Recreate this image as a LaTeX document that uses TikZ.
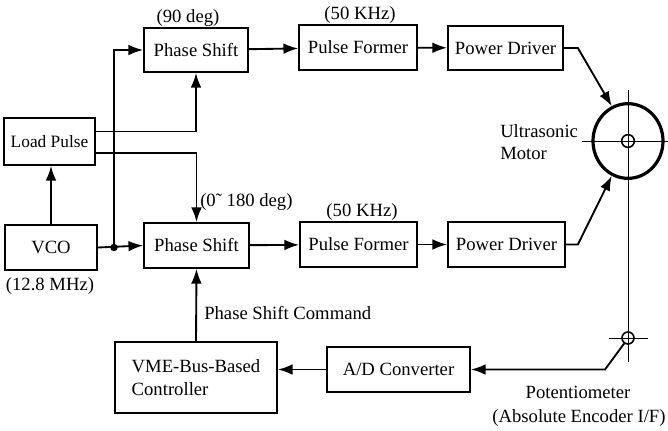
\documentclass[tikz,border=0pt]{standalone}
\usepackage{fontspec}
\setmainfont{Liberation Serif}
\usepackage{tikz}
\usetikzlibrary{arrows.meta,calc,shapes.geometric}

\begin{document}
\begin{tikzpicture}[x=0.75pt,y=-0.75pt,>={Latex[length=11pt,width=8pt]},
  font=\fontsize{14}{17}\selectfont,
  blk/.style={draw,line width=1.3pt,inner sep=2pt,minimum height=33.75pt},
  wire/.style={line width=1.4pt},
  hair/.style={line width=0.7pt}]
  \useasboundingbox (0,0) rectangle (668,430);
  % blocks
  \node[blk,minimum width=68.25pt,minimum height=35.25pt,font=\fontsize{13}{15}\selectfont] (load) at (49.5,141.5) {Load Pulse};
  \node[blk,minimum width=69pt] (vco) at (51,247.5) {VCO};
  \node[blk,minimum width=78pt,minimum height=33pt] (ps1) at (196,50) {Phase Shift};
  \node[blk,minimum width=88.5pt] (pf1) at (358,47.5) {Pulse Former};
  \node[blk,minimum width=86.25pt,minimum height=33pt] (pd1) at (505.5,48) {Power Driver};
  \node[blk,minimum width=78.75pt] (ps2) at (196.5,245.5) {Phase Shift};
  \node[blk,minimum width=87.75pt] (pf2) at (358.5,244.5) {Pulse Former};
  \node[blk,minimum width=87.75pt] (pd2) at (506.5,244.5) {Power Driver};
  \node[blk,minimum width=121.5pt,minimum height=53.25pt,align=left] (vme) at (196,377.5) {VME-Bus-Based\\Controller};
  \node[blk,minimum width=107.25pt] (ad) at (398.5,369.5) {A/D Converter};
  % motor and potentiometer
  \node[ellipse,draw,line width=2.4pt,minimum width=52.5pt,minimum height=56pt] (motor) at (628,141) {};
  \node[circle,draw,line width=1.2pt,inner sep=0pt,minimum size=9.5pt] (shaft) at (motor.center) {};
  \node[circle,draw,line width=1.2pt,inner sep=0pt,minimum size=9pt] (pot) at (628,338) {};
  \draw[hair] (628,90) -- (628,362);
  \draw[hair] (582,141) -- (668,141);
  \draw[hair] (609,338) -- (648,338);
  % labels
  \node (l90) at (188,18) {(90 deg)};
  \node (lk1) at (360,15) {(50 KHz)};
  \node (lk2) at (362,212) {(50 KHz)};
  \node[anchor=west,inner sep=0pt] (l180) at (200,202) {(0˜ 180 deg)};
  \node (lmhz) at (50,286) {(12.8 MHz)};
  \node[anchor=west,inner sep=0pt] (lcmd) at (204,313) {Phase Shift Command};
  \node[anchor=west,align=left,inner sep=0pt] (lmot) at (500,142) {Ultrasonic\\Motor};
  \node (lpot) at (578,392) {Potentiometer};
  \node (lenc) at (579,418) {(Absolute Encoder I/F)};
  % signal paths
  \draw[wire,->] (vco.north) -- (vco.north |- load.south);
  \coordinate (j) at (114,247.5);
  \fill (j) circle (2.8pt);
  \draw[wire,->] (vco.east) -- (ps2.west);
  \draw[wire,->] (j) |- (ps1.west);
  \draw[wire,->] ($(load.east)+(0,-10)$) -| (ps1.south);
  \draw[wire,->] ($(load.east)+(0,11.5)$) -| (ps2.north);
  \draw[wire,->] (ps1) -- (pf1);
  \draw[wire,->] (pf1) -- (pd1);
  \draw[wire,->] (ps2) -- (pf2);
  \draw[wire,->] (pf2) -- (pd2);
  \draw[wire,->] (pd1.east) -- ++(14,0) -- (motor.115);
  \draw[wire,->] (pd2.east) -- ++(12,0) -- (motor.245);
  \draw[wire,->] (vme.north) -- (ps2.south);
  \coordinate (pbend) at (605,369.5);
  \draw[wire,->] (pot.235) -- (pbend) -- (ad.east);
  \draw[wire,->] (ad.west) -- (vme.east |- ad.west);
\end{tikzpicture}
\end{document}
